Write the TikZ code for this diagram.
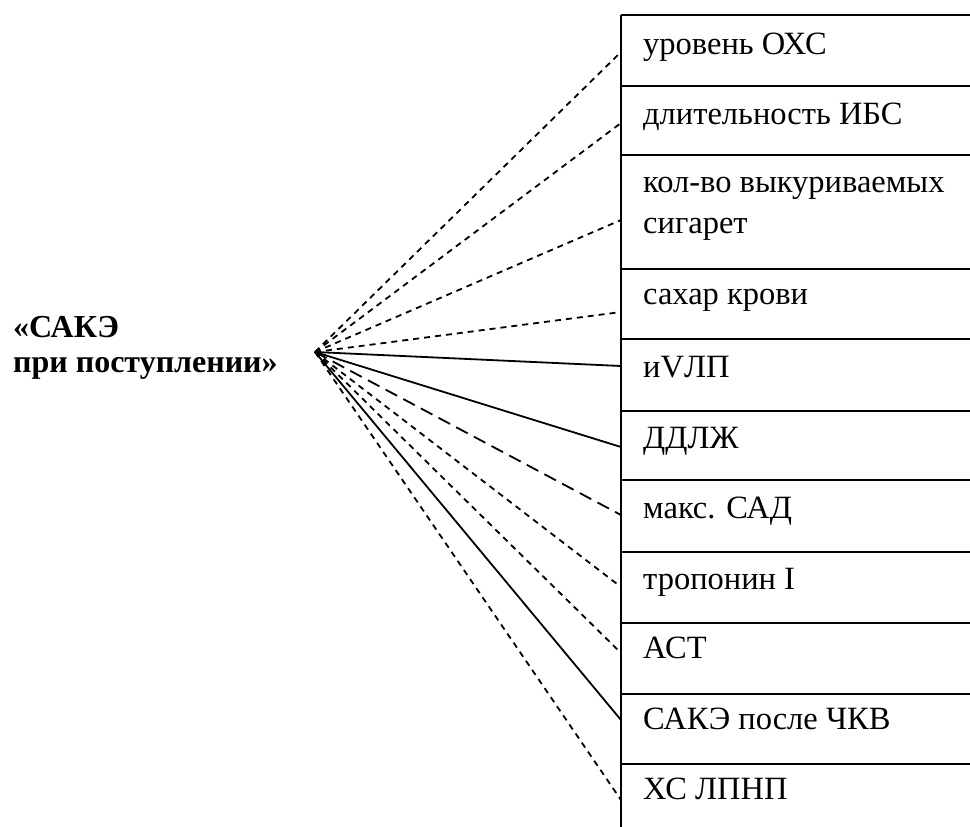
\documentclass[tikz,border=0pt]{standalone}
\usepackage{fontspec}
\setmainfont{Liberation Serif}
\begin{document}
\begin{tikzpicture}[x=1pt,y=-1pt,
  rule/.style={line width=2.4pt},
  lbl/.style={anchor=base west,inner sep=0pt,font=\fontsize{32.5}{40}\selectfont},
  hd/.style={anchor=base west,inner sep=0pt,font=\fontsize{32}{30}\selectfont\bfseries},
  conn/.style={line width=1.8pt},
  sdash/.style={conn,dash pattern=on 6pt off 5pt},
  ldash/.style={conn,dash pattern=on 13pt off 7pt}]
\useasboundingbox (0,0) rectangle (970,827);
% table rules
\draw[rule] (621,15) -- (621,827);
\foreach \yy in {15,86,155,269,339,411,480,552,623,694,764}
  \draw[rule] (621,\yy) -- (970,\yy);
% labels
\node[lbl] (t1) at (643,54) {уровень ОХС};
\node[lbl] (t2) at (643,124) {длительность ИБС};
\node[lbl] (t3) at (643,192) {кол-во выкуриваемых};
\node[lbl] (t3b) at (643,233) {сигарет};
\node[lbl] (t4) at (643,304) {сахар крови};
\node[lbl] (t5) at (643,377) {иVЛП};
\node[lbl] (t6) at (643,448) {ДДЛЖ};
\node[lbl] (t7) at (643,518) {макс. САД};
\node[lbl] (t8) at (643,589) {тропонин I};
\node[lbl] (t9) at (643,658) {АСТ};
\node[lbl] (t10) at (643,729) {САКЭ после ЧКВ};
\node[lbl] (t11) at (643,799) {ХС ЛПНП};
% heading
\node[hd] (h1) at (13,337) {«САКЭ};
\node[hd] (h2) at (13,372) {при поступлении»};
% connector ends
\coordinate (hub) at (315,352);
\coordinate (e1) at (621,52);
\coordinate (e2) at (621,123);
\coordinate (e3) at (621,220);
\coordinate (e4) at (621,312);
\coordinate (e5) at (621,366);
\coordinate (e6) at (621,447);
\coordinate (e7) at (621,515);
\coordinate (e8) at (621,587);
\coordinate (e9) at (621,653);
\coordinate (e10) at (621,720);
\coordinate (e11) at (621,800);
\draw[sdash] (hub) -- (e1);
\draw[sdash] (hub) -- (e2);
\draw[sdash] (hub) -- (e3);
\draw[sdash] (hub) -- (e4);
\draw[conn] (hub) -- (e5);
\draw[conn] (hub) -- (e6);
\draw[ldash] (hub) -- (e7);
\draw[sdash] (hub) -- (e8);
\draw[sdash] (hub) -- (e9);
\draw[conn] (hub) -- (e10);
\draw[sdash] (hub) -- (e11);
\end{tikzpicture}
\end{document}
